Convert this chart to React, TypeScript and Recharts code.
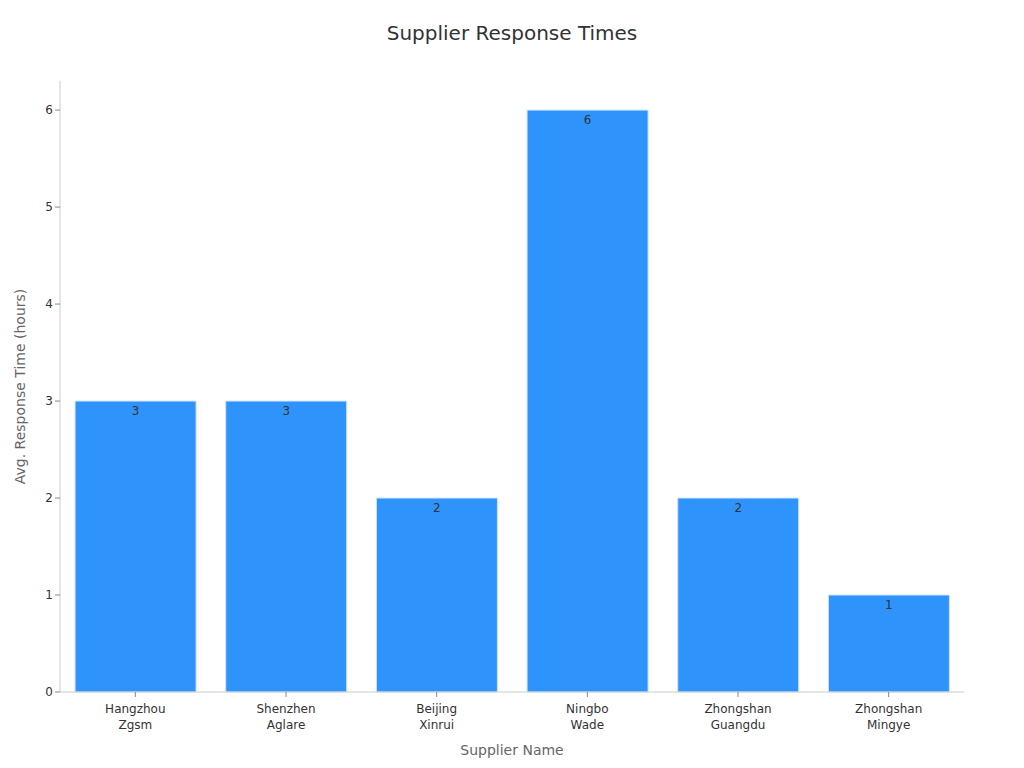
import React from 'react';
import { BarChart, Bar, XAxis, YAxis, LabelList } from 'recharts';

const suppliers = [
  'Hangzhou Zgsm',
  'Shenzhen Aglare',
  'Beijing Xinrui',
  'Ningbo Wade',
  'Zhongshan Guangdu',
  'Zhongshan Mingye',
];
const responseHours = [3, 3, 2, 6, 2, 1];
const yTicks = [0, 1, 2, 3, 4, 5, 6];

const data = suppliers.map((name, i) => ({ name, hours: responseHours[i] }));

const FONT = '"DejaVu Sans", Verdana, sans-serif';

const MultiLineTick = (props: any) => {
  const { x, y, payload } = props;
  const words = String(payload.value).split(' ');
  return (
    <g transform={`translate(${x},${y})`}>
      <text textAnchor="middle" fill="#333" fontSize={12} fontFamily={FONT}>
        {words.map((w: string, i: number) => (
          <tspan key={i} x={0} dy={i === 0 ? 14 : 16}>
            {w}
          </tspan>
        ))}
      </text>
    </g>
  );
};

export default function App() {
  return (
    <div style={{ position: 'absolute', left: 0, top: 0, width: 1024, height: 768, background: '#fff', fontFamily: FONT }}>
      <div
        style={{
          position: 'absolute',
          top: 21,
          left: 0,
          width: 1024,
          textAlign: 'center',
          fontSize: 20,
          color: '#333',
          fontFamily: FONT,
        }}
      >
        Supplier Response Times
      </div>
      <BarChart
        width={1024}
        height={768}
        data={data}
        margin={{ top: 81, right: 60, bottom: 0, left: 0 }}
        barCategoryGap="10%"
      >
        <XAxis
          dataKey="name"
          height={76}
          interval={0}
          tick={<MultiLineTick />}
          axisLine={{ stroke: '#ccc' }}
          tickLine={{ stroke: '#888' }}
          tickSize={5}
          label={{
            value: 'Supplier Name',
            position: 'insideBottom',
            offset: 13,
            fill: '#666',
            fontSize: 14,
            fontFamily: FONT,
          }}
        />
        <YAxis
          width={60}
          domain={[0, 6.3]}
          ticks={yTicks}
          allowDecimals={false}
          axisLine={{ stroke: '#ccc' }}
          tickLine={{ stroke: '#888' }}
          tickSize={5}
          tick={{ fill: '#333', fontSize: 12, fontFamily: FONT }}
          label={{
            value: 'Avg. Response Time (hours)',
            angle: -90,
            position: 'insideLeft',
            offset: 20,
            fill: '#666',
            fontSize: 14,
            fontFamily: FONT,
            style: { textAnchor: 'middle' },
          }}
        />
        <Bar dataKey="hours" fill="#2E93FA" stroke="#cfe4fb" strokeWidth={1} isAnimationActive={false}>
          <LabelList dataKey="hours" position="insideTop" fill="#333" fontSize={12} fontFamily={FONT} />
        </Bar>
      </BarChart>
    </div>
  );
}
